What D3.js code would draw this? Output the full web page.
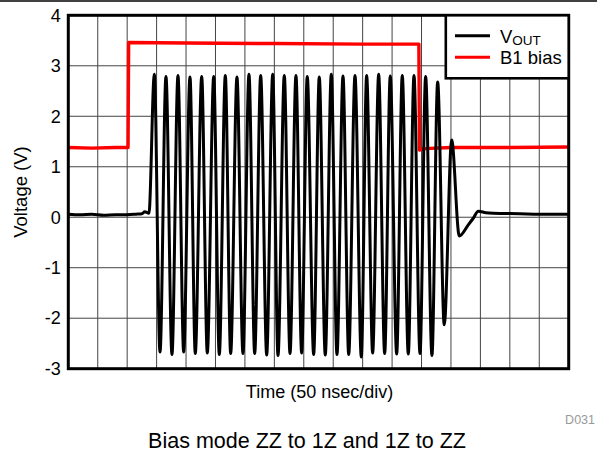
<!DOCTYPE html>
<html>
<head>
<meta charset="utf-8">
<script src="https://cdn.jsdelivr.net/npm/d3@7"></script>
<style>
  html, body { margin: 0; padding: 0; background: #fff; }
  svg { display: block; font-family: "Liberation Sans", Arial, sans-serif; }
</style>
</head>
<body>
<svg id="chart" width="597" height="455"></svg>
<script>
// Voltage axis ticks (V) and time grid (ns, 50 ns per division)
const voltTicks = [-3, -2, -1, 0, 1, 2, 3, 4];
const voltLabels = ["-3", "-2", "-1", "0", "1", "2", "3", "4"];
const timeGrid = [0, 50, 100, 150, 200, 250, 300, 350, 400, 450, 500, 550, 600, 650, 700, 750, 800, 850];

// VOUT trace: time (ns) and voltage (V)
const voutTime = [
  0, 20, 40, 60, 80, 100, 115, 125, 130, 137,
  146.1, 155.8, 165.9, 176.1, 186.3, 196.0, 206.7, 215.7, 226.6, 236.1,
  247.0, 256.5, 266.7, 275.8, 286.5, 296.7, 306.9, 316.6, 326.8, 337.0,
  347.2, 356.2, 366.9, 376.6, 386.7, 396.4, 405.9, 416.8, 426.3, 436.5,
  446.7, 456.4, 466.6, 476.3, 487.0, 497.7, 506.8, 517.0, 527.2, 537.4,
  546.9, 557.8, 567.3, 577.5, 587.2, 597.4, 607.0, 617.7, 627.4, 638.6,
  651.2, 664.1, 679.4, 687.9, 696.4, 709.5, 721.9, 767.2, 800, 850
];
const voutVolts = [
  0.06, 0.05, 0.06, 0.04, 0.05, 0.05, 0.06, 0.07, 0.11, 0.08,
  2.83, -2.67, 2.79, -2.72, 2.81, -2.67, 2.78, -2.70, 2.79, -2.69,
  2.79, -2.72, 2.81, -2.70, 2.78, -2.70, 2.83, -2.70, 2.81, -2.73,
  2.83, -2.74, 2.81, -2.70, 2.81, -2.69, 2.79, -2.72, 2.78, -2.73,
  2.83, -2.72, 2.80, -2.72, 2.81, -2.77, 2.81, -2.69, 2.83, -2.70,
  2.80, -2.71, 2.81, -2.71, 2.81, -2.70, 2.79, -2.74, 2.68, -2.13,
  1.53, -0.37, -0.15, -0.02, 0.12, 0.09, 0.08, 0.07, 0.06, 0.06
];

// B1 bias trace: time (ns) and voltage (V)
const biasTime  = [0, 40, 80, 101.5, 102.5, 200, 350, 500, 595.5, 596.5, 605, 650, 750, 850];
const biasVolts = [1.38, 1.37, 1.38, 1.38, 3.46, 3.45, 3.44, 3.43, 3.43, 1.33, 1.36, 1.38, 1.38, 1.39];

const seriesNames = ["V", "B1 bias"];

const svg = d3.select("#chart");
const plotL = 68.3, plotR = 568.7, plotT = 15.3, plotB = 368.7;

const x = d3.scaleLinear().domain([0, 850]).range([plotL, plotR]);
const y = d3.scaleLinear().domain([-3, 4]).range([plotB, plotT]);

// page rule at the very top
svg.append("line")
  .attr("x1", 0).attr("x2", 597).attr("y1", 1).attr("y2", 1)
  .attr("stroke", "#000").attr("stroke-width", 1.5);

// grid
const grid = svg.append("g");
grid.selectAll("line.v").data(timeGrid).join("line")
  .attr("class", "v")
  .attr("x1", d => x(d)).attr("x2", d => x(d))
  .attr("y1", plotT).attr("y2", plotB)
  .attr("stroke", "#444").attr("stroke-width", 1);
grid.selectAll("line.h").data(voltTicks).join("line")
  .attr("class", "h")
  .attr("x1", plotL).attr("x2", plotR)
  .attr("y1", d => y(d)).attr("y2", d => y(d))
  .attr("stroke", "#444").attr("stroke-width", 1);

// y axis labels (plain hyphen for negatives)
const yAxis = d3.axisLeft(y).tickValues(voltTicks).tickSize(0).tickPadding(7.5)
  .tickFormat((d, i) => voltLabels[i]);
const ya = svg.append("g").attr("transform", `translate(${plotL},0)`).call(yAxis);
ya.select(".domain").remove();
ya.selectAll("text").attr("font-size", 18).attr("fill", "#000")
  .attr("font-family", "Liberation Sans, Arial, sans-serif");

// traces
const biasData = biasTime.map((t, i) => [t, biasVolts[i]]);
const voutData = voutTime.map((t, i) => [t, voutVolts[i]]);

svg.append("path").datum(biasData)
  .attr("d", d3.line().x(d => x(d[0])).y(d => y(d[1])).curve(d3.curveLinear))
  .attr("fill", "none").attr("stroke", "#ff0000").attr("stroke-width", 3.4)
  .attr("stroke-linejoin", "round");

svg.append("path").datum(voutData)
  .attr("d", d3.line().x(d => x(d[0])).y(d => y(d[1])).curve(d3.curveMonotoneX))
  .attr("fill", "none").attr("stroke", "#000").attr("stroke-width", 3)
  .attr("stroke-linejoin", "round");

// plot frame
svg.append("rect")
  .attr("x", plotL).attr("y", plotT).attr("width", plotR - plotL).attr("height", plotB - plotT)
  .attr("fill", "none").attr("stroke", "#000").attr("stroke-width", 3);

// legend
const lg = svg.append("g");
lg.append("rect")
  .attr("x", 445.8).attr("y", plotT).attr("width", plotR - 445.8).attr("height", 78.3 - plotT)
  .attr("fill", "#fff").attr("stroke", "#000").attr("stroke-width", 2.6);
const legendColors = ["#000", "#ff0000"];
const legendY = [35.7, 57.3];
seriesNames.forEach((name, i) => {
  lg.append("line")
    .attr("x1", 455).attr("x2", 490).attr("y1", legendY[i]).attr("y2", legendY[i])
    .attr("stroke", legendColors[i]).attr("stroke-width", 3);
});
const vText = lg.append("text").attr("x", 500).attr("y", 43).attr("font-size", 18.5).attr("fill", "#000");
vText.append("tspan").text(seriesNames[0]);
vText.append("tspan").attr("font-size", 13.5).attr("dy", 1.6).text("OUT");
lg.append("text").attr("x", 500).attr("y", 64.3).attr("font-size", 18.5).attr("fill", "#000").text(seriesNames[1]);

// axis titles
svg.append("text")
  .attr("transform", `translate(27,${(plotT + plotB) / 2}) rotate(-90)`)
  .attr("text-anchor", "middle").attr("font-size", 18.5).attr("fill", "#000")
  .text("Voltage (V)");
svg.append("text")
  .attr("x", (plotL + plotR) / 2 + 1).attr("y", 397.5)
  .attr("text-anchor", "middle").attr("font-size", 18).attr("fill", "#000")
  .text("Time (50 nsec/div)");

// figure id and caption
svg.append("text")
  .attr("x", 595).attr("y", 423.5).attr("text-anchor", "end")
  .attr("font-size", 12.5).attr("fill", "#999").text("D031");
svg.append("text")
  .attr("x", 307).attr("y", 448).attr("text-anchor", "middle")
  .attr("font-size", 21.5).attr("fill", "#000")
  .text("Bias mode ZZ to 1Z and 1Z to ZZ");
</script>
</body>
</html>
